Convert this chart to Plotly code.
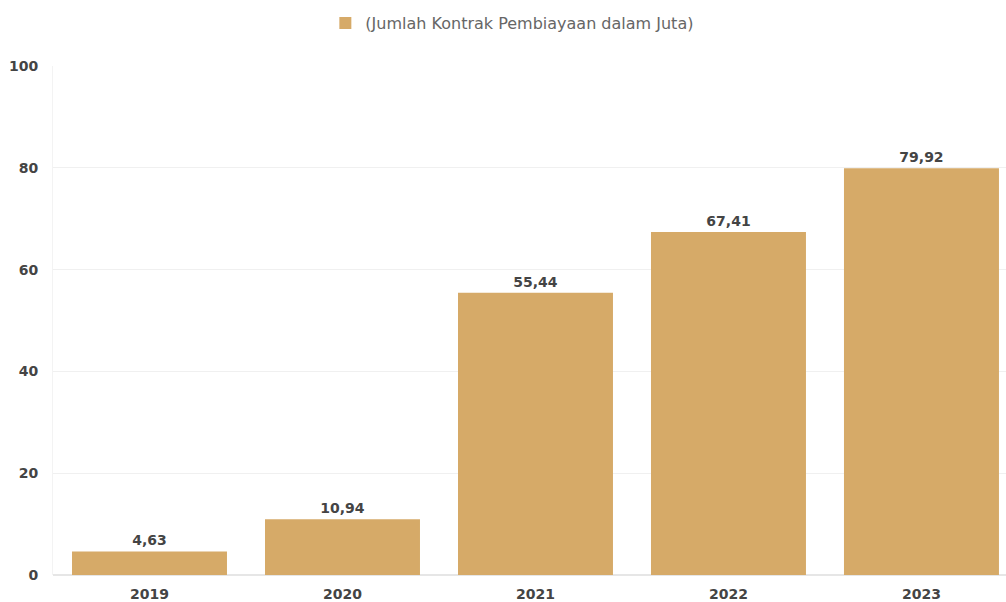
import plotly.graph_objects as go

years = ["2019", "2020", "2021", "2022", "2023"]
values = [4.63, 10.94, 55.44, 67.41, 79.92]
labels = ["4,63", "10,94", "55,44", "67,41", "79,92"]
series_name = "(Jumlah Kontrak Pembiayaan dalam Juta)"
y_ticks = [0, 20, 40, 60, 80, 100]

FONT = "DejaVu Sans"
fig = go.Figure()
fig.add_trace(go.Bar(
    x=years, y=values, name=series_name,
    marker=dict(color="#D6AA68", line=dict(width=0)),
    text=labels, textposition="outside", cliponaxis=False,
    textfont=dict(family=FONT, size=14, color="#444", weight="bold"),
    showlegend=True,
))
fig.update_layout(
    width=1006, height=602,
    margin=dict(l=53, r=0, t=66, b=27),
    plot_bgcolor="white", paper_bgcolor="white",
    bargap=0.197,
    showlegend=True,
    legend=dict(orientation="h", x=0.482, xanchor="center", y=0.99, yanchor="top",
                yref="container", itemwidth=30,
                font=dict(family=FONT, size=16, color="#666")),
    font=dict(family=FONT, color="#555"),
)
fig.update_xaxes(range=[-0.5, 4.438], showgrid=False, showline=False, ticks="",
                 ticklabelstandoff=9,
                 tickfont=dict(family=FONT, size=14, color="#444", weight="bold"))
fig.update_yaxes(range=[0, 100], tickvals=y_ticks, showgrid=True, gridcolor="#f0f0f0",
                 zeroline=True, zerolinecolor="#e6e6e6", showline=True, linecolor="#f3f3f3",
                 ticks="", ticklen=0, ticklabelstandoff=11,
                 tickfont=dict(family=FONT, size=14, color="#444", weight="bold"))
fig.write_html("out.html")
